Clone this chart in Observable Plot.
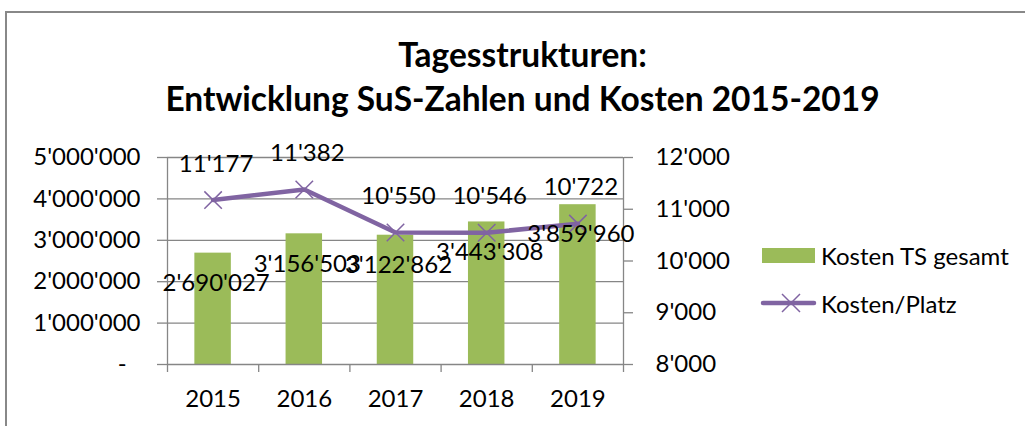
<!DOCTYPE html>
<html>
<head>
<meta charset="utf-8">
<script src="https://cdn.jsdelivr.net/npm/d3@7"></script>
<script src="https://cdn.jsdelivr.net/npm/@observablehq/plot@0.6"></script>
<style>
  html, body { margin: 0; padding: 0; background: #fff; }
  #chart { position: relative; width: 1025px; height: 426px; overflow: hidden; font-family: Lato, "Open Sans", sans-serif; color: #000; }
  #frameTop { position: absolute; left: 5px; top: 11px; width: 1020px; height: 2px; background: #888; }
  #frameLeft { position: absolute; left: 5px; top: 11px; width: 2px; height: 415px; background: #888; }
  #title { height: 125px; box-sizing: border-box; padding-top: 32px; text-align: center; font-weight: 700; font-size: 33.5px; line-height: 44px; padding-left: 20px; }
  #plot { position: absolute; left: 0; top: 125px; }
  .leg { position: absolute; left: 762px; font-size: 24px; display: flex; align-items: center; }
  .leg .sw { width: 53px; height: 15px; margin-right: 6px; position: relative; }
</style>
</head>
<body>
<div id="chart">
  <div id="frameTop"></div>
  <div id="frameLeft"></div>
  <div id="title"></div>
  <div id="plot"></div>
  <div id="legend"></div>
</div>
<script>
// ---- data ----
const titleLines = ["Tagesstrukturen:", "Entwicklung SuS-Zahlen und Kosten 2015-2019"];
const years = [2015, 2016, 2017, 2018, 2019];
const kostenGesamt = [2690027, 3156503, 3122862, 3443308, 3859960];
const kostenPlatz = [11177, 11382, 10550, 10546, 10722];
const leftTicks = [0, 1000000, 2000000, 3000000, 4000000, 5000000];
const rightTicks = [8000, 9000, 10000, 11000, 12000];
const seriesNames = ["Kosten TS gesamt", "Kosten/Platz"];

const green = "#9BBB59";
const purple = "#8064A2";
const gray = "#868686";

const locale = d3.formatLocale({decimal: ".", thousands: "'", grouping: [3], currency: ["", ""]});
const fmt = locale.format(",d");

// secondary axis mapping: [8000,12000] -> [0,5e6]
const rMin = rightTicks[0], rMax = rightTicks[rightTicks.length - 1];
const lMax = leftTicks[leftTicks.length - 1];
const toY = v => (v - rMin) / (rMax - rMin) * lMax;
const fromY = y => y / lMax * (rMax - rMin) + rMin;

const rows = years.map((year, i) => ({year, cost: kostenGesamt[i], place: kostenPlatz[i]}));
const bounds = [years[0] - 0.5, ...years.map(y => y + 0.5)];

document.getElementById("title").innerHTML = titleLines.join("<br>");

const fs = 24;
const plot = Plot.plot({
  width: 1025,
  height: 301,
  marginTop: 32,
  marginBottom: 62,
  marginLeft: 167,
  marginRight: 402,
  style: {fontFamily: "Lato, 'Open Sans', sans-serif", fontSize: fs + "px", color: "#000", background: "transparent", overflow: "visible"},
  x: {domain: [bounds[0], bounds[bounds.length - 1]]},
  y: {domain: [0, lMax]},
  marks: [
    Plot.gridY(leftTicks.slice(1), {stroke: gray, strokeOpacity: 1, strokeWidth: 1.3}),
    Plot.rectY(rows, {x1: d => d.year - 0.2, x2: d => d.year + 0.2, y: "cost", fill: green}),
    Plot.ruleX([bounds[0]], {stroke: gray, strokeWidth: 1.3}),
    Plot.ruleX([bounds[bounds.length - 1]], {stroke: gray, strokeWidth: 1.3}),
    Plot.ruleY([0], {stroke: gray, strokeWidth: 1.3}),
    Plot.axisY({ticks: leftTicks, anchor: "left", tickSize: 10, tickPadding: 17, stroke: gray, strokeWidth: 1.3,
      tickFormat: d => d === 0 ? "-\u2007" : fmt(d), fontSize: fs, label: null}),
    Plot.axisY({ticks: rightTicks.map(toY), anchor: "right", tickSize: 9, tickPadding: 23, stroke: gray, strokeWidth: 1.3,
      tickFormat: d => fmt(Math.round(fromY(d))), fontSize: fs, label: null}),
    Plot.axisX({ticks: bounds, anchor: "bottom", tickSize: 8, tickFormat: () => "", stroke: gray, strokeWidth: 1.3, label: null}),
    Plot.axisX({ticks: years, anchor: "bottom", tickSize: 0, tickPadding: 25, tickFormat: d => String(d), fontSize: fs, label: null}),
    Plot.line(rows, {x: "year", y: d => toY(d.place), stroke: purple, strokeWidth: 4.5}),
    Plot.dot(rows, {x: "year", y: d => toY(d.place), symbol: "times", r: 8, stroke: purple, strokeWidth: 1.5}),
    Plot.text(rows, {x: "year", y: d => toY(d.place), text: d => fmt(d.place), dy: -36, dx: 3, fill: "#000", fontSize: fs}),
    Plot.text(rows, {x: "year", y: "cost", text: d => fmt(d.cost), dy: 30, dx: 3, fill: "#000", fontSize: fs})
  ]
});
document.getElementById("plot").appendChild(plot);

// legend
const legend = document.getElementById("legend");
legend.innerHTML = `
  <div class="leg" style="top:243px;height:24px;">
    <div class="sw" style="background:${green};height:15px;"></div><span>${seriesNames[0]}</span>
  </div>
  <div class="leg" style="top:291px;height:24px;">
    <svg class="sw" width="53" height="24" style="height:24px;overflow:visible">
      <line x1="1" x2="52" y1="12" y2="12" stroke="${purple}" stroke-width="4.5" stroke-linecap="round"/>
      <path d="M20,3L38,21M38,3L20,21" stroke="${purple}" stroke-width="1.5"/>
    </svg><span>${seriesNames[1]}</span>
  </div>`;
</script>
</body>
</html>
